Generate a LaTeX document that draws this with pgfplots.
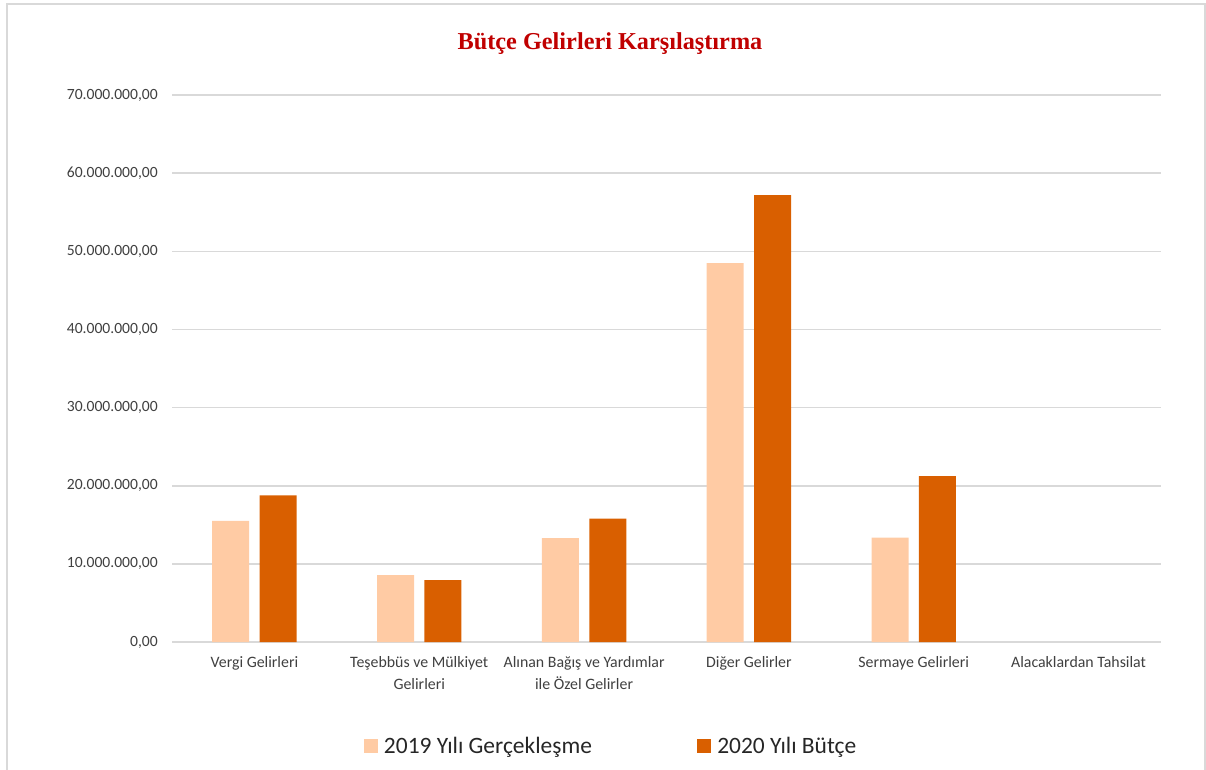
\documentclass[border=0pt]{standalone}
\usepackage{fontspec}
\setmainfont{Carlito}
\newfontfamily\titlefont{Liberation Serif}
\usepackage{pgfplots}
\pgfplotsset{compat=1.18}
\definecolor{light}{HTML}{FFCBA4}
\definecolor{dark}{HTML}{D95F00}
\definecolor{gridc}{HTML}{D9D9D9}
\definecolor{titlec}{HTML}{C00000}
\definecolor{txt}{HTML}{404040}
\definecolor{legtxt}{HTML}{262626}
\begin{document}
\begin{tikzpicture}
\useasboundingbox (0,0) rectangle (904.5pt,-576.75pt);
\draw[gridc, line width=1.1pt] (5.25pt,-3pt) rectangle (903.75pt,-620pt);
\node[anchor=base, font=\titlefont\bfseries\fontsize{18.2}{22}\selectfont, text=titlec] at (457.5pt,-36.75pt) {Bütçe Gelirleri Karşılaştırma};
\begin{axis}[
  at={(129pt,-481.5pt)}, anchor=south west,
  scale only axis, width=741.75pt, height=410.25pt,
  xmin=-0.5, xmax=5.5, ymin=0, ymax=70000000,
  axis line style={draw=none},
  major tick length=0pt,
  ymajorgrids, grid style={gridc, line width=1.2pt},
  ytick={0,10000000,20000000,30000000,40000000,50000000,60000000,70000000},
  scaled y ticks=false,
  yticklabel style={font=\fontsize{11.7}{14}\selectfont, text=txt, inner sep=0pt, xshift=-10.5pt,
    /pgf/number format/.cd, fixed, fixed zerofill, precision=2, use comma, 1000 sep={.}, assume math mode=true},
  xtick={0,1,2,3,4,5},
  xticklabels={{\strut Vergi Gelirleri}, {\strut Teşebbüs ve Mülkiyet\\Gelirleri}, {\strut Alınan Bağış ve Yardımlar\\ile Özel Gelirler}, {\strut Diğer Gelirler}, {\strut Sermaye Gelirleri}, {\strut Alacaklardan Tahsilat}},
  xticklabel style={font=\fontsize{11.9}{16.5}\selectfont, text=txt, align=center, anchor=north, inner sep=0pt, yshift=-7.2pt},
  ybar, bar width=0.2245,
  legend columns=2,
  legend style={at={(0.443,-0.190)}, anchor=center, draw=none, fill=none,
    font=\fontsize{17.6}{21}\selectfont, text=legtxt,
    nodes={inner sep=0pt}, /tikz/column sep=4.5pt,
    /tikz/every even column/.append style={column sep=79pt}},
]
\addplot[fill=light, draw=none, bar shift=-0.144,
  legend image code/.code={\fill[light] (0pt,-5.25pt) rectangle (10.5pt,5.25pt);}]
  coordinates {(0,15500000) (1,8570000) (2,13300000) (3,48500000) (4,13370000)};
\addplot[fill=dark, draw=none, bar shift=0.144,
  legend image code/.code={\fill[dark] (0pt,-5.25pt) rectangle (10.5pt,5.25pt);}]
  coordinates {(0,18750000) (1,7930000) (2,15800000) (3,57200000) (4,21240000)};
\legend{2019 Yılı Gerçekleşme, 2020 Yılı Bütçe}
\end{axis}
\end{tikzpicture}
\end{document}
